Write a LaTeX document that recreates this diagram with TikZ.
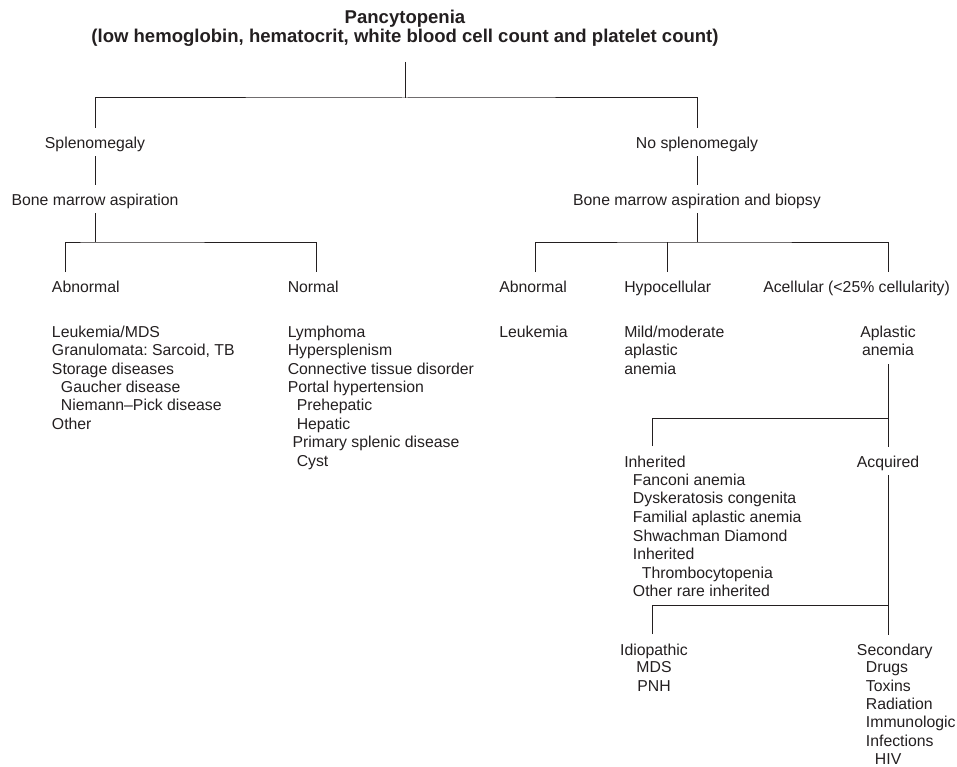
\documentclass[tikz,border=0pt]{standalone}
\usepackage{fontspec}
\setmainfont{Liberation Sans}
\usetikzlibrary{calc}
\frenchspacing
\definecolor{ink}{HTML}{231F20}
\newcommand{\ind}{\hspace*{6.75pt}}
\newcommand{\indh}{\hspace*{3.6pt}}
\begin{document}
\begin{tikzpicture}[x=0.75pt,y=-0.75pt,
  every node/.style={inner sep=0pt,text=ink,font=\fontsize{11.85pt}{13.8pt}\selectfont},
  lbl/.style={text height=15pt,text depth=6pt},
  lst/.style={align=left,anchor=north west},
  clst/.style={align=center,anchor=north},
  ttl/.style={align=center,anchor=north,font=\fontsize{13.9pt}{14.25pt}\selectfont\bfseries},
  link/.style={draw=ink,line width=0.75pt}]
\useasboundingbox (0,0) rectangle (957,767);

% title
\node[ttl] (title) at (405,10) {Pancytopenia\\(low hemoglobin, hematocrit, white blood cell count and platelet count)};

% splenomegaly branch
\node[lbl,anchor=base] (splen) at (95,148) {Splenomegaly};
\node[lbl,anchor=base] (bma) at (95,205) {Bone marrow aspiration};
\node[lbl,anchor=base west] (abnL) at (51.7,292) {Abnormal};
\node[lbl,anchor=base west] (normL) at (287.5,292) {Normal};
\node[lst] (abnList) at (51.7,325.5) {Leukemia/MDS\\Granulomata: Sarcoid, TB\\Storage diseases\\\ind Gaucher disease\\\ind Niemann–Pick disease\\Other};
\node[lst] (normList) at (287.5,325.5) {Lymphoma\\Hypersplenism\\Connective tissue disorder\\Portal hypertension\\\ind Prehepatic\\\ind Hepatic\\\indh Primary splenic disease\\\ind Cyst};

% no splenomegaly branch
\node[lbl,anchor=base] (nosplen) at (697,148) {No splenomegaly};
\node[lbl,anchor=base] (bmab) at (697,205) {Bone marrow aspiration and biopsy};
\node[lbl,anchor=base west] (abnR) at (499,292) {Abnormal};
\node[lbl,anchor=base west] (hypo) at (624,292) {Hypocellular};
\node[lbl,anchor=base west] (acell) at (763,292) {Acellular (<25\% cellularity)};
\node[lst] (leuk) at (499,325.5) {Leukemia};
\node[lst] (mild) at (624,325.5) {Mild/moderate\\aplastic\\anemia};
\node[clst] (aplastic) at (888,325.5) {Aplastic\\anemia};

% aplastic anemia causes
\node[lbl,anchor=base west] (inh) at (624,467) {Inherited};
\node[lst,font=\fontsize{11.85pt}{13.9pt}\selectfont] (inhList) at (632.7,473.7) {Fanconi anemia\\Dyskeratosis congenita\\Familial aplastic anemia\\Shwachman Diamond\\Inherited\\\ind Thrombocytopenia\\Other rare inherited};
\node[lbl,anchor=base] (acq) at (888,467) {Acquired};
\node[lbl,anchor=base] (idio) at (654,655) {Idiopathic};
\node[clst] (idioList) at (654,661.5) {MDS\\PNH};
\node[lbl,anchor=base west] (sec) at (856.7,655) {Secondary};
\node[lst] (secList) at (865.7,661.5) {Drugs\\Toxins\\Radiation\\Immunologic\\Infections\\\ind HIV};

% junctions and branch ends
\coordinate (j0) at (405,98);
\coordinate (jL) at (95,242);
\coordinate (lb1) at (65,272);
\coordinate (lb2) at (316,272);
\coordinate (jR) at (697,242);
\coordinate (rb1) at (535,272);
\coordinate (rb3) at (888,272);
\coordinate (j2) at (888,418);
\coordinate (inhTop) at (652,446);
\coordinate (j3) at (888,605);
\coordinate (idTop) at (652,634);

% connectors
\draw[link] ($(title.south)+(0,15)$) -- (j0);
\draw[link] (splen.north) |- (j0) -| (nosplen.north);
\draw[link] (splen.south) -- (bma.north);
\draw[link] (bma.south) -- (jL);
\draw[link] (lb1) |- (jL) -| (lb2);
\draw[link] (nosplen.south) -- (bmab.north);
\draw[link] (bmab.south) -- (jR);
\draw[link] (rb1) |- (jR) -| (rb3);
\draw[link] (hypo.north) -- (hypo.north |- jR);
\draw[link] ($(aplastic.south)+(0,8)$) -- (acq.north);
\draw[link] (inhTop) |- (j2);
\draw[link] (acq.south) -- (acq.south |- sec.north);
\draw[link] (idTop) |- (j3);
\end{tikzpicture}
\end{document}
